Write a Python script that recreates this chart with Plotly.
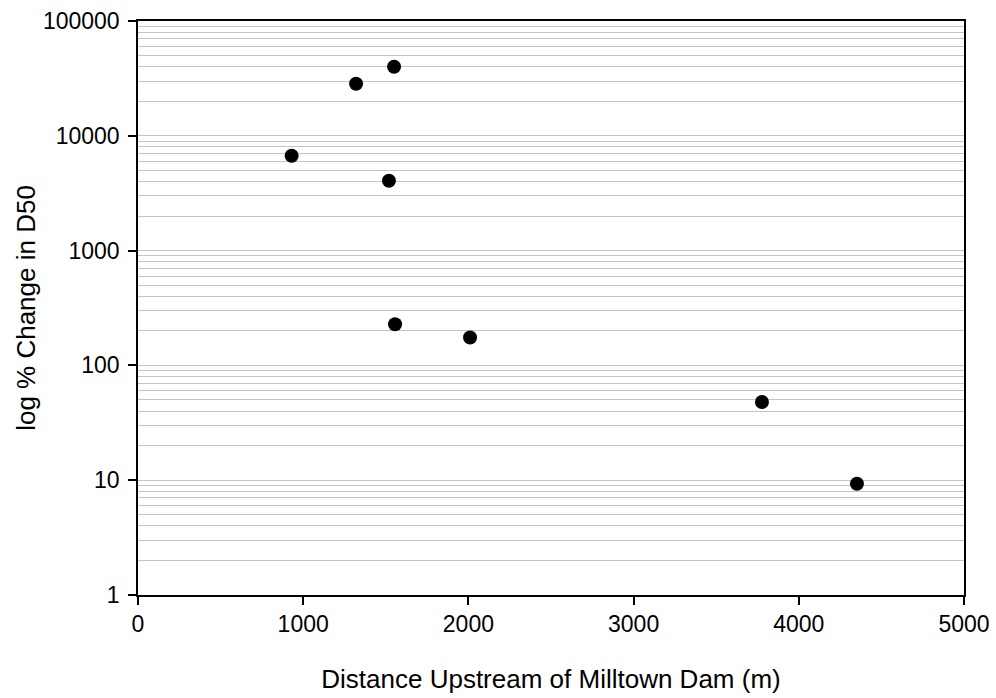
import plotly.graph_objects as go

distance_m = [930, 1320, 1550, 1519, 1556, 2010, 3777, 4352]
pct_change_d50 = [6700, 28400, 39900, 4060, 228, 175, 48, 9.3]

y_tick_vals = [1, 10, 100, 1000, 10000, 100000]
y_tick_text = ["1", "10", "100", "1000", "10000", "100000"]
x_tick_vals = [0, 1000, 2000, 3000, 4000, 5000]

fig = go.Figure()
fig.add_trace(go.Scatter(
    x=distance_m, y=pct_change_d50, mode="markers",
    marker=dict(size=14, color="black"),
    showlegend=False,
))

font = "Liberation Sans, Arial, sans-serif"
fig.update_layout(
    width=996, height=698,
    margin=dict(l=138, r=32, t=21, b=103),
    paper_bgcolor="white", plot_bgcolor="white",
    font=dict(family=font, color="black", size=24),
)
fig.update_xaxes(
    range=[0, 5000], tickvals=x_tick_vals, automargin=False,
    showline=True, linecolor="black", linewidth=1.5, mirror=True,
    ticks="outside", ticklen=8, tickcolor="black", tickwidth=1.5,
    showgrid=False, zeroline=False,
    tickfont=dict(size=23),
    title=dict(text="Distance Upstream of Milltown Dam (m)", font=dict(size=26), standoff=33),
)
fig.update_yaxes(
    type="log", range=[0, 5], automargin=False,
    tickvals=y_tick_vals, ticktext=y_tick_text, ticklabelstandoff=4,
    showline=True, linecolor="black", linewidth=1.5, mirror=True,
    ticks="outside", ticklen=8, tickcolor="black", tickwidth=1.5,
    showgrid=False, zeroline=False,
    minor=dict(showgrid=True, gridcolor="#c4c4c4", gridwidth=1.3, ticks="", dtick="D1"),
    tickfont=dict(size=23),
    title=dict(text="log % Change in D50", font=dict(size=26), standoff=0),
)
fig.write_html("out.html")
